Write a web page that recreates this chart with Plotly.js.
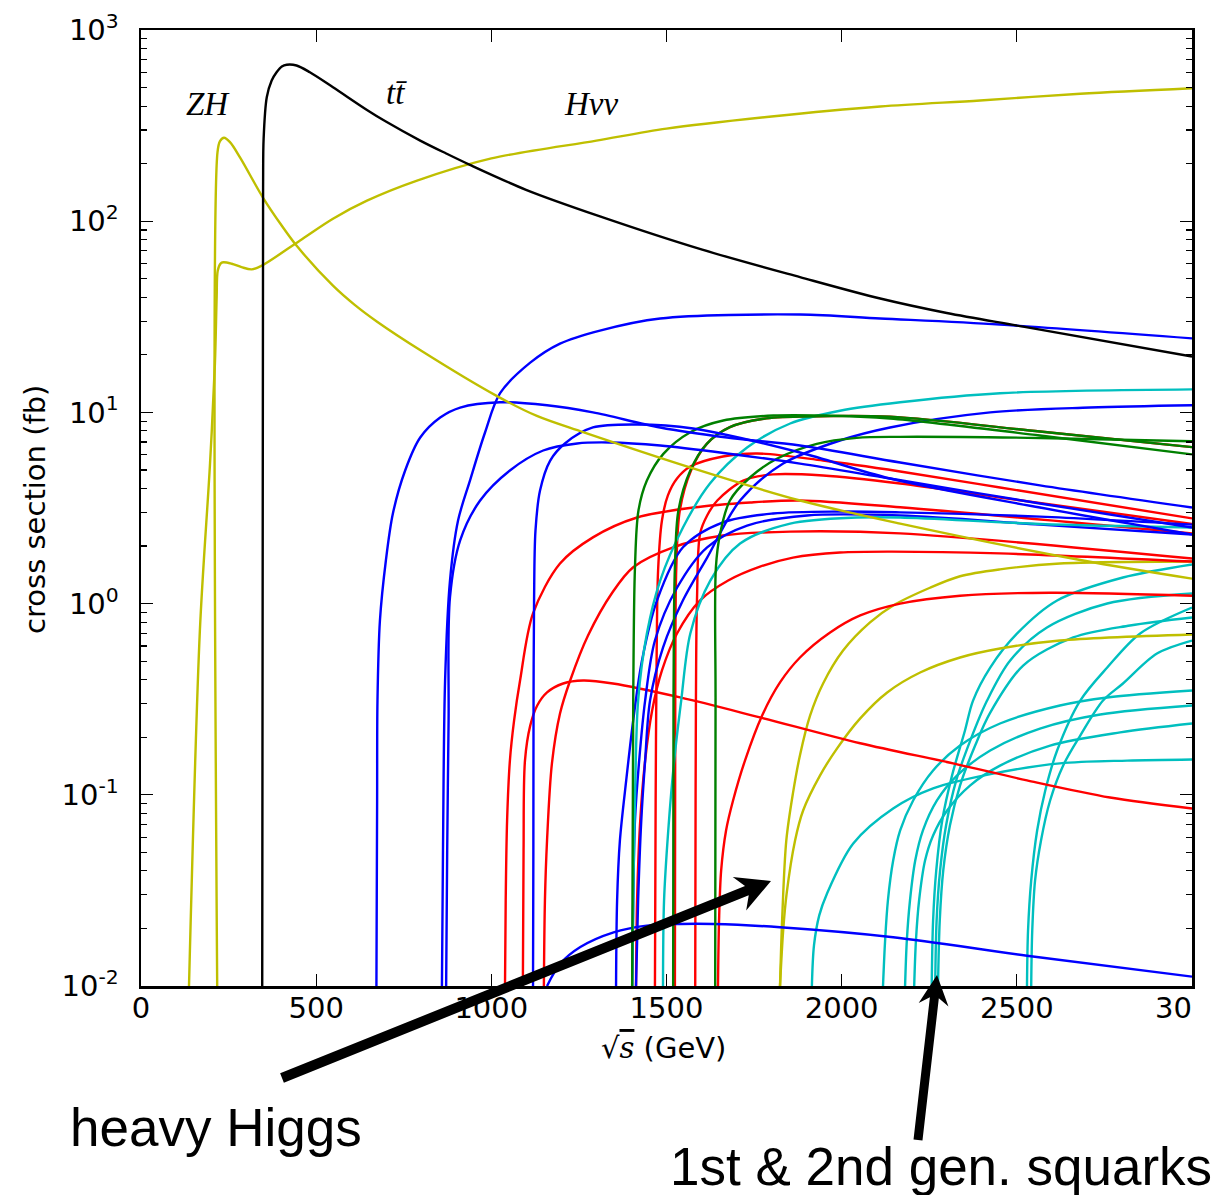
<!DOCTYPE html>
<html>
<head>
<meta charset="utf-8">
<script src="https://cdn.plot.ly/plotly-3.0.1.min.js"></script>
<style>html,body{margin:0;padding:0;background:#fff;}</style>
</head>
<body>
<div id="chart" style="width:1218px;height:1195px;"></div>
<script>
// ---- axis ticks ----
const xTickVals = [0, 500, 1000, 1500, 2000, 2500];
const xTickText = ['0', '500', '1000', '1500', '2000', '2500'];
const xLastTick = '30';   // the 3000 label runs off the frame edge
const yTickVals = [0.01, 0.1, 1, 10, 100, 1000];
const yTickText = ['10<sup>-2</sup>', '10<sup>-1</sup>', '10<sup>0</sup>', '10<sup>1</sup>', '10<sup>2</sup>', '10<sup>3</sup>'];

// ---- cross sections: [sqrt(s) GeV, sigma fb] ----
// Standard Model Higgs and top
const ZH    = [[217.5,0.01],[218.4,230],[225.5,262],[237,273],[254,259],[283,215],[348,133],[400,95.8],[445,74.1],[548,46.0],[610,36.5],[674,29.8],[800,21.0],[1015,12.2],[1130,9.58],[1262,7.88],[1576,5.09],[1881,3.46],[2167,2.62],[2689,1.68],[3000,1.35]];
const Hnunu = [[137,0.01],[168,0.72],[197,5.4],[211,18],[216,40],[219,55],[227,60],[235,61],[259,59.9],[287,57.5],[316,56],[345,58.6],[454,79.3],[548,103],[645,128],[788,163],[1000,213],[1300,264],[1500,305],[1800,353],[2110,398],[2395,428],[2681,464],[3000,496]];
const ttbar = [[346,0.01],[348.5,150],[350,270],[359,445],[373,544],[387,601],[402,644],[416,658],[444,652],[482,601],[548,502],[645,382],[699,332],[797,264],[871,226],[939,197],[1099,146],[1310,106],[1602,71],[1881,51],[2110,39.4],[2300,33.1],[2518,28.1],[3000,19.6]];

// heavy Higgs
const heavyH1 = [[1824,0.01],[1830,0.022],[1842,0.0577],[1861,0.102],[1881,0.161],[1910,0.26],[1947,0.382],[2004,0.568],[2081,0.797],[2147,0.977],[2252,1.21],[2338,1.39],[2452,1.51],[2623,1.62],[3000,1.66]];
const heavyH2 = [[1824,0.01],[1833,0.0195],[1843,0.0305],[1867,0.0577],[1890,0.0828],[1938,0.126],[1987,0.175],[2053,0.251],[2130,0.343],[2224,0.436],[2338,0.5225],[2452,0.582],[2623,0.641],[3000,0.689]];

// blue processes
const blue1 = [[672,0.01],[674,0.0934],[675,0.311],[682,0.816],[699,1.68],[719,2.96],[754,4.97],[797,7.39],[854,9.4],[911,10.6],[1025,11.3],[1159,10.9],[1290,10.0],[1482,8.34],[1673,7.39],[1881,6.71],[2167,5.47],[2566,4.15],[3000,3.18]];
const blue2 = [[859,0.01],[862,0.0511],[868,0.396],[882,1.32],[905,2.72],[939,4.4],[982,7.85],[1025,12.6],[1111,18.2],[1196,22.9],[1310,26.8],[1482,31.0],[1881,32.5],[2110,31.0],[2452,28.8],[3000,24.4]];
const blue3 = [[871,0.01],[874,0.0511],[878,0.245],[882,1.08],[911,2.14],[968,3.46],[1053,4.97],[1148,6.32],[1245,6.88],[1339,6.96],[1482,6.71],[1673,6.1],[1881,5.4],[2138,4.51],[2566,3.34],[3000,2.5]];
const blue4 = [[1119,0.01],[1120,0.0511],[1120.5,0.311],[1122,1.04],[1126,2.41],[1139,3.9],[1168,5.6],[1210,6.88],[1290,8.34],[1416,8.65],[1576,8.24],[1881,6.17],[2138,4.51],[2566,3.18],[3000,2.3]];
const blue5 = [[1356,0.01],[1359,0.028],[1367,0.0577],[1385,0.119],[1405,0.245],[1430,0.504],[1473,1.04],[1547,1.97],[1661,2.66],[1804,2.96],[1995,3.03],[2167,3.0],[2566,2.85],[3000,2.59]];
const blue6 = [[1402,0.01],[1405,0.028],[1410,0.0734],[1422,0.151],[1439,0.311],[1467,0.641],[1530,1.21],[1616,1.97],[1730,2.56],[1901,2.89],[2167,2.89],[2566,2.59],[3000,2.3]];
const blue7 = [[1413,0.01],[1419,0.028],[1428,0.0734],[1439,0.151],[1453,0.311],[1490,0.589],[1547,1.04],[1616,1.74],[1710,3.46],[1833,5.4],[1995,7.13],[2138,8.34],[2424,10.0],[2709,10.6],[3000,10.9]];
const blue8 = [[1159,0.01],[1197,0.0131],[1254,0.016],[1349,0.0191],[1444,0.0207],[1538,0.0211],[1633,0.0211],[1824,0.0203],[2147,0.018],[2529,0.0144],[3000,0.0112]];

// green processes
const green1 = [[1402,0.01],[1405,0.311],[1410,1.55],[1420,3.07],[1444,4.4],[1491,6.07],[1568,7.88],[1662,9.07],[1805,9.63],[1948,9.63],[2138,9.3],[2566,7.57],[3000,6.03]];
const green2 = [[1519,0.01],[1520,0.311],[1524,1.55],[1534,3.07],[1568,4.97],[1615,6.85],[1681,8.37],[1777,9.26],[1900,9.52],[2138,9.5],[2566,7.94],[3000,6.58]];
const green3 = [[1639,0.01],[1640,0.311],[1641,1.55],[1653,2.32],[1681,3.46],[1739,4.58],[1815,5.72],[1929,6.85],[2043,7.36],[2167,7.45],[2566,7.35],[3000,7.07]];

// red processes
const redA   = [[1039,0.01],[1041,0.028],[1045,0.0734],[1053,0.151],[1065,0.245],[1082,0.396],[1119,0.888],[1196,1.62],[1290,2.22],[1416,2.82],[1576,3.18],[1739,3.38],[1881,3.46],[2167,3.19],[3000,2.33]];
const redLow = [[1090,0.01],[1092,0.0511],[1096,0.151],[1111,0.23],[1131,0.293],[1159,0.343],[1205,0.382],[1262,0.396],[1347,0.382],[1539,0.323],[1767,0.254],[2053,0.186],[2318,0.146],[2529,0.119],[2766,0.0968],[3000,0.0848]];
const redB   = [[1150,0.01],[1153,0.028],[1159,0.0577],[1173,0.146],[1196,0.266],[1225,0.396],[1276,0.681],[1345,1.14],[1405,1.55],[1519,1.97],[1661,2.27],[1853,2.38],[2167,2.33],[3000,1.72]];
const redX   = [[1413,0.01],[1416,0.028],[1425,0.0734],[1439,0.151],[1459,0.276],[1487,0.447],[1530,0.698],[1596,1.04],[1676,1.32],[1767,1.56],[1861,1.74],[1995,1.85],[2138,1.87],[2452,1.83],[3000,1.66]];
const redC   = [[1467,0.01],[1469,0.0934],[1472,0.568],[1476,1.49],[1487,2.72],[1504,3.68],[1530,4.51],[1568,5.21],[1661,5.88],[1759,6.1],[1947,5.6],[2167,4.91],[2452,4.05],[3000,2.79]];
const redE   = [[1524,0.01],[1525,0.311],[1528,1.55],[1538,3.07],[1570,4.97],[1615,6.85],[1681,8.37],[1777,9.26],[1900,9.52],[2138,9.5],[2566,7.94],[3000,6.58]];
const redD   = [[1582,0.01],[1583,0.0934],[1584,0.311],[1587,1.04],[1596,2.33],[1616,2.89],[1645,3.46],[1719,4.4],[1804,4.74],[1947,4.68],[2167,4.25],[2452,3.59],[3000,2.61]];
const redF   = [[1647,0.01],[1650,0.022],[1656,0.0402],[1670,0.0651],[1690,0.0934],[1724,0.151],[1773,0.26],[1824,0.387],[1881,0.5225],[1967,0.706],[2053,0.867],[2167,1.0],[2338,1.1],[2595,1.14],[3000,1.1]];

// cyan processes
const cyan1 = [[1402,0.01],[1405,0.028],[1410,0.0934],[1419,0.311],[1444,0.698],[1482,1.32],[1547,2.5],[1624,4.25],[1730,6.55],[1853,8.75],[1995,10.2],[2167,11.3],[2452,12.6],[3000,13.2]];
const cyan2 = [[1490,0.01],[1493,0.028],[1505,0.065],[1522,0.151],[1542,0.311],[1568,0.698],[1625,1.32],[1710,2.06],[1853,2.62],[2044,2.82],[2167,2.82],[2566,2.61],[3000,2.5]];
const squark0 = [[1915,0.01],[1921,0.0163],[1936,0.0234],[1958,0.0304],[2033,0.0556],[2147,0.0848],[2261,0.108],[2432,0.129],[2623,0.146],[2815,0.151],[3000,0.153]];
const squark1 = [[2118,0.01],[2124,0.0173],[2132,0.028],[2147,0.0453],[2167,0.0651],[2204,0.0934],[2261,0.134],[2338,0.181],[2452,0.236],[2623,0.293],[2758,0.323],[3000,0.351]];
const squark2 = [[2181,0.01],[2186,0.0173],[2195,0.028],[2210,0.0453],[2232,0.0651],[2272,0.0934],[2329,0.126],[2424,0.1705],[2566,0.222],[2738,0.263],[3000,0.293]];
const squark3 = [[2207,0.01],[2212,0.0173],[2221,0.028],[2238,0.0453],[2261,0.0613],[2301,0.0828],[2367,0.112],[2452,0.142],[2595,0.181],[2795,0.212],[3000,0.236]];
const squark4 = [[2257,0.01],[2261,0.022],[2270,0.0402],[2287,0.0734],[2315,0.126],[2352,0.217],[2375,0.311],[2424,0.463],[2501,0.698],[2615,1.038],[2803,1.369],[3000,1.602]];
const squark5 = [[2267,0.01],[2271,0.022],[2281,0.0402],[2298,0.0691],[2327,0.119],[2367,0.192],[2415,0.311],[2481,0.504],[2586,0.75],[2758,1.001],[3000,1.129]];
const squark6 = [[2275,0.01],[2280,0.022],[2290,0.0402],[2309,0.0691],[2338,0.112],[2381,0.181],[2424,0.269],[2518,0.474],[2661,0.665],[2823,0.768],[3000,0.846]];
const squark7 = [[2529,0.01],[2532,0.0195],[2541,0.0356],[2558,0.0651],[2581,0.105],[2615,0.1705],[2681,0.311],[2758,0.463],[2852,0.698],[3000,0.954]];
const squark8 = [[2541,0.01],[2544,0.0195],[2552,0.0356],[2569,0.0577],[2595,0.0934],[2632,0.142],[2681,0.204],[2746,0.311],[2803,0.382],[2900,0.548],[3000,0.641]];

// ---- colours ----
const BLUE = '#0000ff', GREEN = '#008000', RED = '#ff0000', CYAN = '#00bfbf', YELLOW = '#bfbf00', BLACK = '#000000';

const series = [
  [squark0, CYAN], [squark1, CYAN], [squark2, CYAN], [squark3, CYAN], [squark4, CYAN],
  [squark5, CYAN], [squark6, CYAN], [squark7, CYAN], [squark8, CYAN],
  [heavyH1, YELLOW], [heavyH2, YELLOW],
  [redLow, RED], [redA, RED], [redB, RED], [redX, RED], [redE, RED], [redC, RED], [redD, RED], [redF, RED],
  [blue8, BLUE], [blue5, BLUE], [blue6, BLUE], [blue7, BLUE],
  [cyan1, CYAN], [cyan2, CYAN],
  [green1, GREEN], [green2, GREEN], [green3, GREEN],
  [blue1, BLUE], [blue2, BLUE], [blue3, BLUE], [blue4, BLUE],
  [ZH, YELLOW], [Hnunu, YELLOW], [ttbar, BLACK]
];

const traces = series.map(([pts, color]) => ({
  type: 'scatter',
  mode: 'lines',
  x: pts.map(p => p[0]),
  y: pts.map(p => p[1]),
  line: {color: color, width: 2.4, shape: 'spline', smoothing: 0.9},
  hoverinfo: 'skip'
}));

// minor log ticks 2..9 per decade
const minorVals = [];
for (let e = -2; e < 3; e++) {
  for (let m = 2; m <= 9; m++) minorVals.push(m * Math.pow(10, e));
}

// ---- page geometry ----
const W = 1218, H = 1195;
const M = {l: 141, r: 26, t: 30, b: 209};
const plotW = W - M.l - M.r, plotH = H - M.t - M.b;
const toPaper = (px, py) => [(px - M.l) / plotW, (H - M.b - py) / plotH];

// filled arrow (shaft + swept-back head), given in page pixels
function arrowShape(tail, tip, halfShaft, headLen, notchLen, halfHead) {
  const dx = tip[0] - tail[0], dy = tip[1] - tail[1];
  const len = Math.hypot(dx, dy);
  const ux = dx / len, uy = dy / len, nx = -uy, ny = ux;
  const at = (along, across) => [tip[0] + ux * along + nx * across, tip[1] + uy * along + ny * across];
  const pts = [
    [tail[0] + nx * halfShaft, tail[1] + ny * halfShaft],
    at(-notchLen, halfShaft),
    at(-headLen, halfHead),
    tip,
    at(-headLen, -halfHead),
    at(-notchLen, -halfShaft),
    [tail[0] - nx * halfShaft, tail[1] - ny * halfShaft]
  ].map(p => toPaper(p[0], p[1]));
  const path = 'M' + pts.map(p => p[0].toFixed(5) + ',' + p[1].toFixed(5)).join('L') + 'Z';
  return {type: 'path', xref: 'paper', yref: 'paper', path: path, fillcolor: '#000', line: {width: 0}, layer: 'above'};
}

const serifLabel = {family: 'Liberation Serif', size: 33, color: '#000'};
const axisFont = {family: 'DejaVu Sans', size: 29, color: '#000'};
const noteFont = {family: 'Liberation Sans', size: 53, color: '#000'};

const layout = {
  width: W,
  height: H,
  margin: {l: M.l, r: M.r, t: M.t, b: M.b, pad: 0},
  paper_bgcolor: '#ffffff',
  plot_bgcolor: '#ffffff',
  showlegend: false,
  font: axisFont,
  xaxis: {
    range: [0, 3000],
    tickmode: 'array', tickvals: xTickVals, ticktext: xTickText,
    ticks: 'inside', ticklen: 12, tickwidth: 1.3, tickcolor: '#000',
    showline: true, linewidth: 2.5, linecolor: '#000', mirror: 'allticks',
    showgrid: false, zeroline: false,
    ticklabelstandoff: -5,
    tickfont: axisFont
  },
  yaxis: {
    type: 'log', range: [-2, 3],
    tickmode: 'array', tickvals: yTickVals, ticktext: yTickText,
    ticks: 'inside', ticklen: 12, tickwidth: 1.3, tickcolor: '#000',
    minor: {tickmode: 'array', tickvals: minorVals, ticks: 'inside', ticklen: 6, tickwidth: 1.1, tickcolor: '#000', showgrid: false},
    showline: true, linewidth: 2.5, linecolor: '#000', mirror: 'allticks',
    showgrid: false, zeroline: false,
    ticklabelstandoff: 14,
    tickfont: axisFont
  },
  shapes: [
    arrowShape([282, 1078], [771, 881], 5, 34, 26, 18),
    arrowShape([918, 1140], [937, 975], 4.5, 30, 23, 15)
  ],
  annotations: [
    // last x tick label, cut at the frame edge
    {xref: 'paper', yref: 'paper', x: 1.0015, y: -0.0235, xanchor: 'right', yanchor: 'middle', text: xLastTick, showarrow: false, font: axisFont},
    // axis titles
    {xref: 'paper', yref: 'paper', x: 0.4967, y: -0.0649, xanchor: 'center', yanchor: 'middle',
     text: '\u221A<span style="text-decoration:overline;font-family:\'DejaVu Serif\'"><i>s</i></span> (GeV)', showarrow: false, font: axisFont},
    {xref: 'paper', yref: 'paper', x: -0.1009, y: 0.499, xanchor: 'center', yanchor: 'middle', textangle: -90,
     text: 'cross section (fb)', showarrow: false, font: axisFont},
    // curve labels
    {xref: 'paper', yref: 'paper', x: 0.0633, y: 0.9226, xanchor: 'center', yanchor: 'middle', text: '<i>ZH</i>', showarrow: false, font: serifLabel},
    {xref: 'paper', yref: 'paper', x: 0.2436, y: 0.9341, xanchor: 'center', yanchor: 'middle', text: '<i>tt\u0304</i>', showarrow: false, font: serifLabel},
    {xref: 'paper', yref: 'paper', x: 0.4282, y: 0.9226, xanchor: 'center', yanchor: 'middle', text: '<i>H\u03BD\u03BD</i>', showarrow: false, font: serifLabel},
    // callouts
    {xref: 'paper', yref: 'paper', x: -0.0695, y: -0.1475, xanchor: 'left', yanchor: 'middle', text: 'heavy Higgs', showarrow: false, font: noteFont},
    {xref: 'paper', yref: 'paper', x: 0.5014, y: -0.1883, xanchor: 'left', yanchor: 'middle', text: '1st &amp; 2nd gen. squarks', showarrow: false, font: noteFont}
  ]
};

Plotly.newPlot('chart', traces, layout, {staticPlot: true, displayModeBar: false});
</script>
</body>
</html>
